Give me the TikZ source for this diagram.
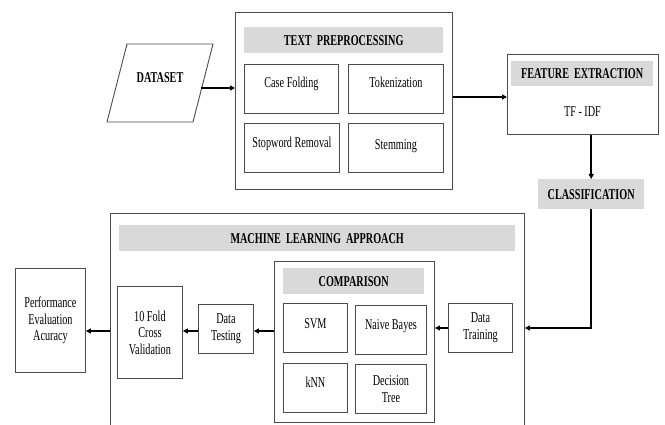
\documentclass[tikz,border=0pt]{standalone}
\usepackage{fontspec}
\setmainfont{Liberation Serif}[FakeStretch=0.68]
\usetikzlibrary{arrows.meta}
\begin{document}
\begin{tikzpicture}[x=1pt,y=-1pt,
  font=\fontsize{15}{16.5}\selectfont,
  box/.style={draw=black!70, line width=0.9pt, fill=white, inner sep=0pt, anchor=north west, align=center},
  hdr/.style={fill=black!15, inner sep=0pt, anchor=north west, font=\fontsize{15}{16.5}\selectfont\bfseries},
  up/.style={text height=10pt, text depth=#1},
  arr/.style={line width=1.6pt, -{Triangle[length=5pt,width=5pt]}},
]
\useasboundingbox (0,0) rectangle (665,425);
\clip (0,0) rectangle (665,425);
\fill[white] (0,0) rectangle (665,425);

\coordinate (y97) at (0,97);
\coordinate (y328) at (0,328);
\coordinate (y331) at (0,331);

% Dataset
\draw[draw=black!70, line width=0.9pt] (127,44) -- (213,44) -- (193,122) -- (107,122) -- cycle;
\node[font=\fontsize{15}{16.5}\selectfont\bfseries] (ds) at (160,78) {DATASET};
\coordinate (dsr) at (201,88);

% Text preprocessing
\node[box, minimum width=217pt, minimum height=177pt] (tp) at (235,12) {};
\node[hdr, minimum width=199pt, minimum height=26pt] (tph) at (244,27) {TEXT\ \ PREPROCESSING};
\node[box, minimum width=94pt, minimum height=49pt, up=12pt] (cf) at (244,64) {Case Folding};
\node[box, minimum width=95pt, minimum height=49pt, up=12pt] (tok) at (348,64) {Tokenization};
\node[box, minimum width=95pt, minimum height=49pt, up=11.6pt] (sw) at (244,123) {Stopword Removal};
\node[box, minimum width=95pt, minimum height=49pt, up=7pt] (stem) at (348,123) {Stemming};

% Feature extraction
\node[box, minimum width=151pt, minimum height=80pt] (fe) at (507,54) {};
\node[hdr, minimum width=142pt, minimum height=25pt] (feh) at (511,61) {FEATURE\ \ EXTRACTION};
\node (tfidf) at (582.5,112) {TF - IDF};

% Classification
\node[hdr, minimum width=106pt, minimum height=30pt] (cls) at (538,179) {CLASSIFICATION};

% Machine learning approach
\node[box, minimum width=414pt, minimum height=230pt] (ml) at (110,213) {};
\node[hdr, minimum width=396pt, minimum height=26pt] (mlh) at (119,225) {MACHINE\ \ LEARNING\ \ APPROACH};
\node[box, minimum width=160pt, minimum height=161pt] (cmp) at (274,261) {};
\node[hdr, minimum width=141pt, minimum height=26pt] (cmph) at (283,268) {COMPARISON};
\node[box, minimum width=64pt, minimum height=49pt, up=8.4pt] (svm) at (283,303) {SVM};
\node[box, minimum width=71pt, minimum height=49pt, up=10.6pt] (nb) at (355,305) {Naive Bayes};
\node[box, minimum width=64pt, minimum height=49pt, up=10.4pt] (knn) at (283,363) {kNN};
\node[box, minimum width=71pt, minimum height=49pt] (dt) at (355,364) {Decision\\Tree};
\node[box, minimum width=64pt, minimum height=49pt] (dtr) at (448,303) {Data\\Training};
\node[box, minimum width=55pt, minimum height=49pt] (dte) at (198,304) {Data\\Testing};
\node[box, minimum width=65pt, minimum height=92pt] (cv) at (117,286) {10 Fold\\Cross\\Validation};
\node[box, minimum width=70pt, minimum height=104pt] (perf) at (15,268) {Performance\\Evaluation\\Acuracy};

% Connectors
\draw[arr] (dsr) -- (dsr -| tp.west);
\draw[arr] (tp.east |- y97) -- (fe.west |- y97);
\draw[arr] (cls.north |- fe.south) -- (cls.north);
\draw[arr] (cls.south) |- (ml.east |- y328);
\draw[arr] (dtr.west |- y328) -- (cmp.east |- y328);
\draw[arr] (cmp.west |- y331) -- (dte.east |- y331);
\draw[arr] (dte.west |- y331) -- (cv.east |- y331);
\draw[arr] (ml.west |- y331) -- (perf.east |- y331);
\end{tikzpicture}
\end{document}
